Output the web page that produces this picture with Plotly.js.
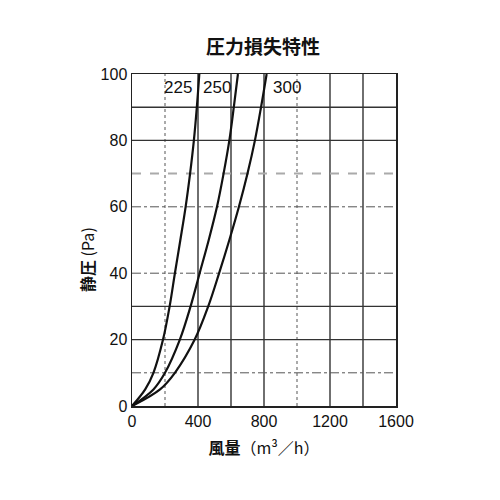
<!DOCTYPE html>
<html>
<head>
<meta charset="utf-8">
<script src="https://cdn.plot.ly/plotly-3.0.1.min.js"></script>
<style>body{margin:0;background:#fff}#chart{width:500px;height:500px}</style>
</head>
<body>
<div id="chart"></div>
<script>
// 静圧 (Pa) の読み取り点
var pressure = [0, 5, 10, 20, 30, 40, 50, 60, 70, 80, 90, 100];
// 風量 (m3/h) — 口径ごと
var flow225 = [0, 80, 130, 188, 228, 260, 293, 325, 352, 375, 393, 408];
var flow250 = [0, 130, 200, 290, 355, 410, 465, 515, 555, 590, 617, 642];
var flow300 = [0, 170, 260, 380, 462, 528, 590, 648, 700, 745, 782, 816];
var sizeLabels = ['225', '250', '300'];
var labelX = [279, 515, 937];
var labelY = [96, 96, 96];

var xTicks = [0, 400, 800, 1200, 1600];
var yTicks = [0, 20, 40, 60, 80, 100];

// grid lines (styles differ like the scan)
var gridSolidX = [400, 600, 800, 1200, 1400];
var gridDotX = [200, 1000];
var gridSolidY = [20, 30, 80, 90];
var gridDashY = [10, 40, 60];
var gridGreyY = [70];

function curve(x, y) {
  return {
    x: x, y: y, type: 'scatter', mode: 'lines',
    line: {color: '#111', width: 2.2, shape: 'spline', smoothing: 1},
    hoverinfo: 'skip', showlegend: false
  };
}
var data = [curve(flow225, pressure), curve(flow250, pressure), curve(flow300, pressure)];

var shapes = [];
gridSolidX.forEach(function (v) {
  shapes.push({type: 'line', xref: 'x', yref: 'paper', x0: v, x1: v, y0: 0, y1: 1,
    line: {color: '#333', width: 1.4}, layer: 'below'});
});
gridDotX.forEach(function (v) {
  shapes.push({type: 'line', xref: 'x', yref: 'paper', x0: v, x1: v, y0: 0, y1: 1,
    line: {color: '#aaa', width: 2, dash: 'dot'}, layer: 'below'});
});
gridSolidY.forEach(function (v) {
  shapes.push({type: 'line', xref: 'paper', yref: 'y', x0: 0, x1: 1, y0: v, y1: v,
    line: {color: '#333', width: 1.4}, layer: 'below'});
});
gridDashY.forEach(function (v) {
  shapes.push({type: 'line', xref: 'paper', yref: 'y', x0: 0, x1: 1, y0: v, y1: v,
    line: {color: '#555', width: 1, dash: 'dashdot'}, layer: 'below'});
});
gridGreyY.forEach(function (v) {
  shapes.push({type: 'line', xref: 'paper', yref: 'y', x0: 0, x1: 1, y0: v, y1: v,
    line: {color: '#aaa', width: 2, dash: 'dash'}, layer: 'below'});
});

var annotations = sizeLabels.map(function (t, i) {
  return {x: labelX[i], y: labelY[i], xref: 'x', yref: 'y', text: t, showarrow: false,
    font: {family: 'Liberation Sans, Arial, sans-serif', size: 17, color: '#111'}};
});
// y axis title, placed left of the tick labels
annotations.push({
  x: (87 - 132) / 264, y: (406 - 260) / 332, xref: 'paper', yref: 'paper',
  xanchor: 'center', yanchor: 'middle',
  text: '<b>静圧</b> (Pa)', showarrow: false, textangle: -90,
  font: {family: 'Noto Sans CJK JP', size: 16, color: '#111'}
});

var layout = {
  width: 500, height: 500,
  margin: {l: 132, r: 104, t: 74, b: 94},
  paper_bgcolor: '#fff', plot_bgcolor: '#fff',
  title: {text: '<b>圧力損失特性</b>', x: 0.526, xanchor: 'center', y: 0.905, yanchor: 'middle',
    font: {family: 'Noto Sans CJK JP', size: 19, color: '#111'}},
  xaxis: {
    range: [0, 1600], tickvals: xTicks, ticktext: xTicks.map(String),
    showgrid: false, zeroline: false, showline: true, mirror: true,
    linecolor: '#222', linewidth: 1.5, ticks: '',
    tickfont: {family: 'Liberation Sans, Arial, sans-serif', size: 16, color: '#111'},
    title: {text: '<b>風量</b>（m³／h）', standoff: 14,
      font: {family: 'Noto Sans CJK JP', size: 16, color: '#111'}}
  },
  yaxis: {
    range: [0, 100], tickvals: yTicks, ticktext: yTicks.map(String),
    showgrid: false, zeroline: false, showline: true, mirror: true,
    linecolor: '#222', linewidth: 1.5, ticks: '',
    tickfont: {family: 'Liberation Sans, Arial, sans-serif', size: 16, color: '#111'}
  },
  shapes: shapes,
  annotations: annotations
};

Plotly.newPlot('chart', data, layout, {staticPlot: true});
</script>
</body>
</html>
